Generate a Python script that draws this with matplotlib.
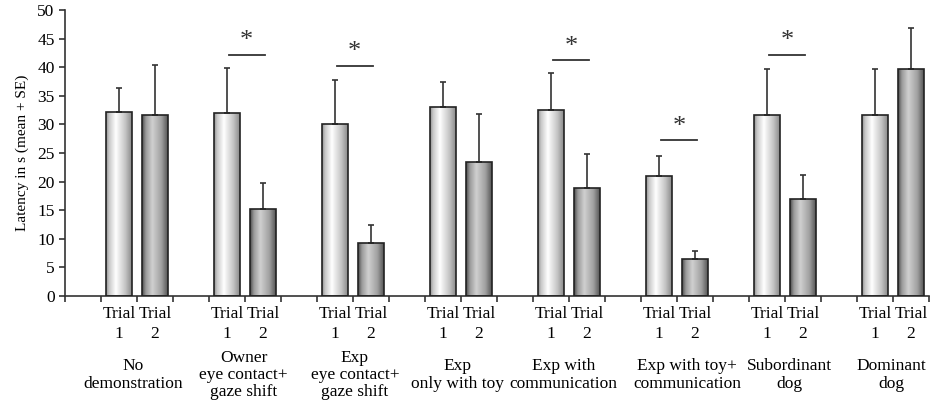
import numpy as np
import matplotlib
matplotlib.use("Agg")
import matplotlib.pyplot as plt
from matplotlib.colors import LinearSegmentedColormap
from matplotlib import transforms

plt.rcParams['font.family'] = ['Liberation Serif', 'DejaVu Serif']

groups = ["No\ndemonstration", "Owner\neye contact+\ngaze shift",
          "Exp\neye contact+\ngaze shift", "Exp\nonly with toy",
          "Exp with\ncommunication", "Exp with toy+\ncommunication",
          "Subordinant\ndog", "Dominant\ndog"]
trial1_mean = [32.2, 32.0, 30.1, 33.1, 32.6, 20.9, 31.7, 31.7]
trial1_se = [4.2, 7.8, 7.7, 4.4, 6.4, 3.5, 8.0, 8.0]
trial2_mean = [31.6, 15.2, 9.2, 23.4, 18.8, 6.5, 17.0, 39.7]
trial2_se = [8.8, 4.6, 3.2, 8.5, 6.0, 1.3, 4.2, 7.2]
# significant trial 1 vs trial 2 differences: group index -> bracket height
sig_pairs = {1: 42.2, 2: 40.3, 4: 41.3, 5: 27.2, 6: 42.2}

light = LinearSegmentedColormap.from_list(
    "light", [(0, "#8f8f8f"), (0.12, "#c8c8c8"), (0.38, "#ffffff"),
              (0.75, "#c4c4c4"), (1, "#8a8a8a")])
dark = LinearSegmentedColormap.from_list(
    "dark", [(0, "#4a4a4a"), (0.15, "#9a9a9a"), (0.4, "#d0d0d0"),
             (0.75, "#a0a0a0"), (1, "#555555")])

fig = plt.figure(figsize=(9.3, 4.03), dpi=100)
ax = fig.add_axes([0.0699, 0.2655, 0.9291, 0.7095])

n = len(groups)
x1 = np.arange(n) * 3 + 1.5
x2 = np.arange(n) * 3 + 2.5
w = 0.7

bars1 = ax.bar(x1, trial1_mean, width=w, facecolor="none",
               edgecolor="#222222", linewidth=1.2, zorder=3)
bars2 = ax.bar(x2, trial2_mean, width=w, facecolor="none",
               edgecolor="#222222", linewidth=1.2, zorder=3)

grad = np.linspace(0, 1, 256).reshape(1, -1)
for bars, cmap in ((bars1, light), (bars2, dark)):
    for b in bars:
        x0, y0 = b.get_x(), b.get_y()
        im = ax.imshow(grad, extent=(x0, x0 + b.get_width(), y0, y0 + b.get_height()),
                       aspect="auto", cmap=cmap, zorder=2, interpolation="bilinear")
        im.set_clip_path(b)

ax.errorbar(x1, trial1_mean, yerr=[np.zeros(n), trial1_se], fmt="none",
            ecolor="#333333", elinewidth=1.2, capsize=2.5, capthick=1.2, zorder=2.5)
ax.errorbar(x2, trial2_mean, yerr=[np.zeros(n), trial2_se], fmt="none",
            ecolor="#333333", elinewidth=1.2, capsize=2.5, capthick=1.2, zorder=2.5)

for g, h in sig_pairs.items():
    ax.plot([x1[g] + 0.05, x2[g] + 0.05], [h, h], color="#333333", lw=1.3)
    ax.text((x1[g] + x2[g]) / 2 + 0.05, h + 0.4, "*", ha="center", va="bottom",
            fontsize=19, color="#333333")

ax.set_xlim(0, 3 * n)
ax.set_ylim(0, 50)
ax.set_yticks(np.arange(0, 51, 5))
ax.set_xticks(np.arange(0, 3 * n + 1))
ax.set_xticklabels([])
ax.set_xticks(np.concatenate([x1, x2]), minor=True)
ax.set_xticklabels(["Trial\n1"] * n + ["Trial\n2"] * n, minor=True)
ax.tick_params(axis="x", which="minor", length=0, labelsize=12.5, pad=7)
ax.tick_params(axis="x", which="major", length=4, width=1.2, color="#333333")
ax.tick_params(axis="y", length=4, width=1.2, labelsize=12.5, color="#333333")
for lbl in ax.get_xticklabels(minor=True):
    lbl.set_linespacing(1.35)

for side in ("top", "right"):
    ax.spines[side].set_visible(False)
for side in ("left", "bottom"):
    ax.spines[side].set_linewidth(1.2)
    ax.spines[side].set_color("#333333")

ax.set_ylabel("Latency in s (mean + SE)", fontsize=11, labelpad=6)

# group captions sit under each pair, nudged a little so neighbours don't collide
nudge = [-0.1, -0.04, 0.05, -0.1, -0.15, 0.28, 0.12, -0.04]
trans = transforms.blended_transform_factory(ax.transData, fig.transFigure)
for g, name in enumerate(groups):
    ax.text(3 * g + 2 + nudge[g], 1 - 375 / 403, name, transform=trans,
            ha="center", va="center", fontsize=12.5, linespacing=1.1)

fig.savefig("out.png", dpi=100, facecolor="white")
